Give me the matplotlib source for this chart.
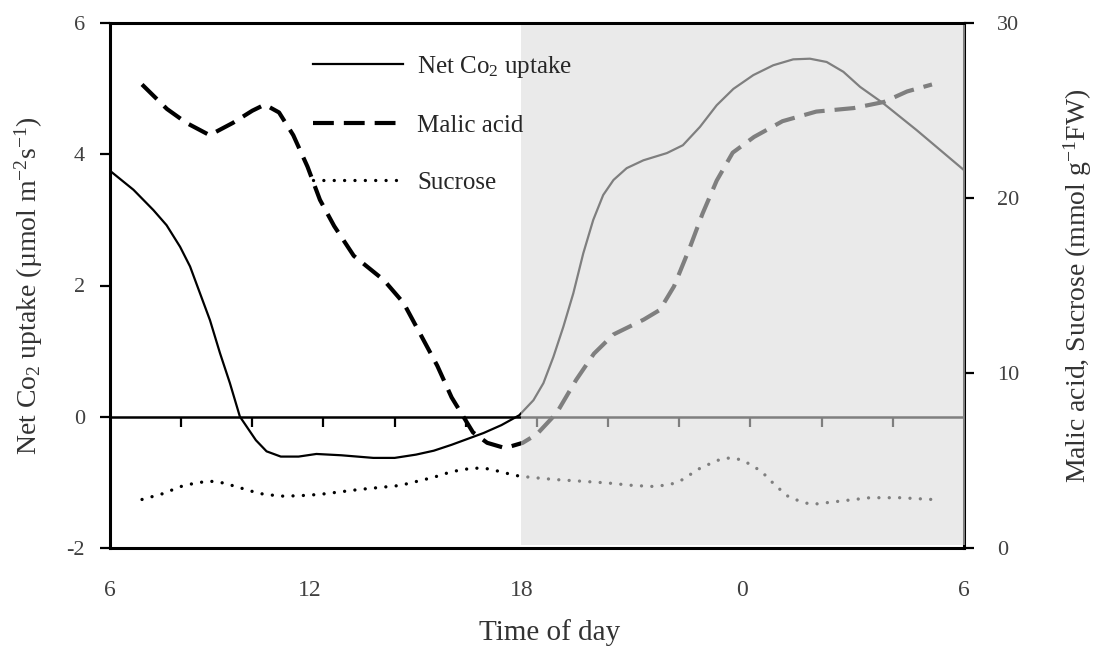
import numpy as np
import matplotlib
matplotlib.use("Agg")
import matplotlib.pyplot as plt

plt.rcParams['font.family'] = ['Liberation Serif', 'DejaVu Serif']
plt.rcParams['mathtext.fontset'] = 'custom'
plt.rcParams['mathtext.rm'] = 'Liberation Serif'
plt.rcParams['mathtext.it'] = 'Liberation Serif:italic'
plt.rcParams['mathtext.bf'] = 'Liberation Serif:bold'

# ---------------- data ----------------
co2_hours = [6.0, 6.66, 7.22, 7.59, 7.97, 8.25, 8.53, 8.81, 9.09, 9.37, 9.65, 10.1, 10.4,
             10.8, 11.3, 11.8, 12.5, 13.4, 14.0, 14.6, 15.1, 15.6, 16.5, 17.0, 17.5, 17.9,
             18.18, 18.46, 18.74, 19.02, 19.3, 19.58, 19.86, 20.15, 20.52, 20.99, 21.65,
             22.1, 22.58, 23.05, 23.52, 24.08, 24.64, 25.2, 25.67, 26.14, 26.61, 27.08,
             27.73, 28.67, 30.0]
co2_values = [3.75, 3.46, 3.15, 2.92, 2.59, 2.29, 1.88, 1.47, 0.97, 0.51, 0.0, -0.36, -0.53,
              -0.61, -0.61, -0.57, -0.59, -0.63, -0.63, -0.58, -0.52, -0.43, -0.25, -0.13,
              0.02, 0.25, 0.51, 0.91, 1.37, 1.88, 2.49, 3.0, 3.38, 3.61, 3.79, 3.91, 4.02,
              4.14, 4.42, 4.75, 5.0, 5.21, 5.36, 5.45, 5.46, 5.41, 5.26, 5.03,
              4.78, 4.37, 3.76]

malic_hours = [6.9, 7.6, 8.15, 8.8, 9.45, 10.0, 10.35, 10.75, 11.15, 11.55, 11.9, 12.3,
               12.85, 13.7, 14.25, 14.7, 15.2, 15.6, 16.2, 16.6, 17.1, 17.6, 18.0, 18.55,
               19.1, 19.6, 20.15, 21.0, 21.45, 21.85, 22.3, 22.65, 23.05, 23.5, 24.1,
               24.9, 25.85, 26.9, 27.75, 28.4, 29.1]
malic_values = [26.5, 25.1, 24.3, 23.6, 24.3, 25.0, 25.35, 24.9, 23.6, 21.8, 19.9, 18.4,
                16.7, 15.3, 14.0, 12.3, 10.4, 8.6, 6.6, 6.0, 5.7, 6.0, 6.5, 7.7,
                9.6, 11.1, 12.2, 13.05, 13.6, 14.95, 17.2, 19.1, 21.0, 22.6, 23.5,
                24.4, 24.95, 25.15, 25.5, 26.1, 26.5]

sucrose_hours = [6.9, 7.5, 7.97, 8.4, 8.8, 9.2, 9.65, 10.2, 10.78, 11.3, 11.9, 13.0,
                 14.15, 15.1, 15.6, 16.2, 16.65, 17.4, 17.8, 18.5, 19.2, 20.0, 20.7,
                 21.3, 21.75, 22.05, 22.6, 23.2, 23.5, 23.8, 24.3, 24.7, 25.1, 25.7,
                 26.5, 27.35, 28.2, 29.1]
sucrose_values = [2.76, 3.1, 3.49, 3.7, 3.81, 3.7, 3.43, 3.1, 2.95, 2.97, 3.05, 3.33,
                  3.56, 4.03, 4.35, 4.56, 4.51, 4.13, 4.03, 3.9, 3.81, 3.7, 3.56,
                  3.5, 3.62, 3.85, 4.57, 5.1, 5.14, 4.99, 4.38, 3.56, 2.86, 2.47,
                  2.66, 2.86, 2.86, 2.76]

left_ticks = [-2, 0, 2, 4, 6]
right_ticks = [0, 10, 20, 30]
x_label_pos = [6.0, 11.6, 17.57, 23.77, 30.0]
x_tick_labels = ['6', '12', '18', '0', '6']
night_start = 17.55
zero_tick_hours = list(range(8, 30, 2))

# ---------------- figure ----------------
fig = plt.figure(figsize=(11, 6.5), dpi=100)
ax = fig.add_axes([110 / 1100, 1 - 547.7 / 650, 854 / 1100, 524.4 / 650])
ax2 = ax.twinx()

ax.set_xlim(6, 30)
ax.set_ylim(-2, 6)
ax2.set_ylim(0, 30)

label_col = '#404040'

# zero line with small downward ticks
ax.axhline(0, color='black', lw=1.8, zorder=1)
ax.plot(zero_tick_hours, [0] * len(zero_tick_hours), linestyle='none', marker=3,
        markersize=7, markeredgewidth=1.6, color='black', zorder=1)

l1, = ax.plot(co2_hours, co2_values, color='black', lw=1.6, label='Net Co$_2$ uptake', zorder=3)
l2, = ax2.plot(malic_hours, malic_values, color='black', lw=3.0, dashes=(5, 2.4),
               label='Malic acid', zorder=3)
l3, = ax2.plot(sucrose_hours, sucrose_values, color='black', lw=2.4, dashes=(0.01, 3.1),
               dash_capstyle='round', label='Sucrose', zorder=3)

# night shading (drawn over lines, turning them grey)
ax2.axvspan(night_start, 30.04, ymin=0.0057, ymax=0.9973, facecolor=(220 / 255,) * 3,
            alpha=0.58, edgecolor='none', zorder=5, clip_on=False)

# spines
for s in ['top', 'left', 'bottom']:
    ax.spines[s].set_linewidth(2.2)
    ax.spines[s].set_color('black')
ax.spines['right'].set_visible(False)
for s in ['top', 'left', 'bottom']:
    ax2.spines[s].set_visible(False)
ax2.spines['right'].set_linewidth(2.2)
ax2.spines['right'].set_color('black')

# ticks
ax.set_yticks(left_ticks)
ax.set_yticklabels([str(t) for t in left_ticks])
ax.tick_params(axis='y', direction='out', length=7, width=1.6, pad=11,
               labelsize=16, labelcolor=label_col, color='black')
ax2.set_yticks(right_ticks)
ax2.set_yticklabels([str(t) for t in right_ticks])
ax2.tick_params(axis='y', direction='out', length=7, width=1.6, pad=17,
                labelsize=16, labelcolor=label_col, color='black')
ax.set_xticks(x_label_pos)
ax.set_xticklabels(x_tick_labels)
ax.tick_params(axis='x', length=0, pad=23, labelsize=17, labelcolor=label_col)

# axis labels
ax.set_xlabel('Time of day', fontsize=21, color='#333333')
ax.xaxis.set_label_coords((550 - 110) / 854, (547.7 - 633) / 524.4)
ax.xaxis.label.set_va('center')
ax.set_ylabel('Net Co$_2$ uptake (µmol m$^{-2}$s$^{-1}$)', fontsize=20, color='#333333')
ax.yaxis.set_label_coords((29 - 110) / 854, 0.5)
ax.yaxis.label.set_va('center')
ax2.set_ylabel('Malic acid, Sucrose (mmol g$^{-1}$FW)', fontsize=20, color='#333333')
ax2.yaxis.set_label_coords((1078 - 110) / 854, 0.5)
ax2.yaxis.label.set_va('center')

leg = ax2.legend(handles=[l1, l2, l3], loc='upper left', frameon=False,
                 bbox_to_anchor=(313 / 1100, 1 - 54 / 650), bbox_transform=fig.transFigure,
                 fontsize=18, handlelength=3.6, handletextpad=0.56, labelspacing=1.38,
                 borderpad=0, borderaxespad=0)
leg.set_zorder(10)
for t in leg.get_texts():
    t.set_color('#262626')

fig.savefig('out.png', dpi=100)
